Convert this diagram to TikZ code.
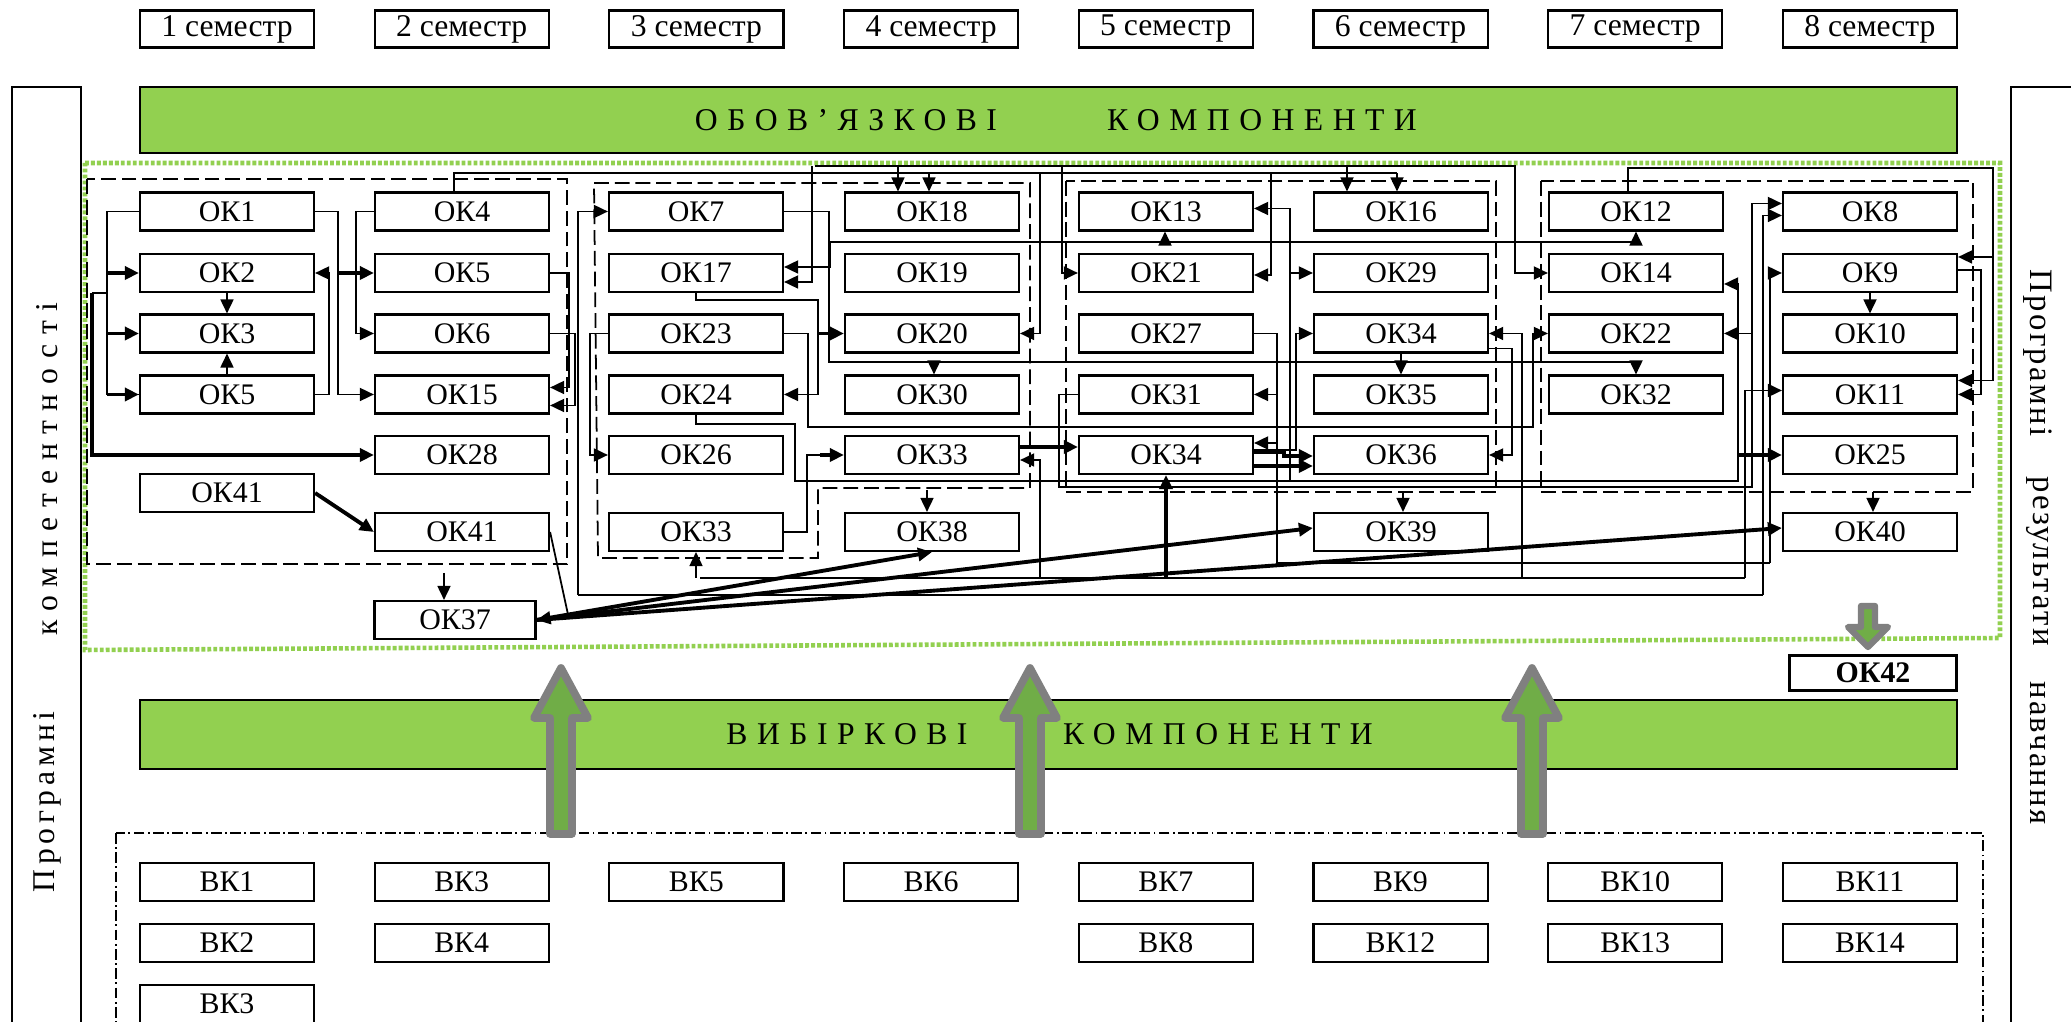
\documentclass[tikz,border=0pt]{standalone}
\usepackage{fontspec}
\setmainfont{Liberation Serif}
\newfontfamily\widefont[LetterSpace=30]{Liberation Serif}
\newfontfamily\widerfont[LetterSpace=15]{Liberation Serif}
\newfontfamily\narrowfont[LetterSpace=7]{Liberation Serif}
\usetikzlibrary{arrows.meta,calc}
\definecolor{BarClr}{RGB}{146,208,80}
\definecolor{UpClr}{RGB}{112,173,71}
\definecolor{ArrClr}{RGB}{128,128,128}

\tikzset{
  okbox/.style={draw,line width=0.6pt,minimum width=1.74cm,minimum height=0.38cm,inner sep=0pt,font=\fontsize{8.5}{10}\selectfont},
  ln/.style={line width=0.5pt},
  arr/.style={ln,-{Triangle[length=0.14cm,width=0.13cm]}},
  tarr/.style={arr,line width=1.1pt},
  grp/.style={line width=0.5pt,dash pattern=on 4.2pt off 1.7pt},
  bartext/.style={font={\widefont\fontsize{9}{10}\selectfont}},
  sidetext/.style={font={\widefont\fontsize{9}{10}\selectfont},rotate=90},
  sidetextr/.style={font={\narrowfont\fontsize{9.3}{10}\selectfont},rotate=-90},
  bigup/.style={fill=UpClr,draw=ArrClr,line width=2.2pt,line join=round},
}

\begin{document}
\begin{tikzpicture}[x=0.01cm,y=-0.01cm]
\useasboundingbox (0,0) rectangle (2071,1022);

% side frames
\draw[ln] (12,87) rectangle (81,1040);
\draw[ln] (2011,87) rectangle (2090,1040);
\node[sidetext,font={\widerfont\fontsize{9}{10}\selectfont}] (lt1) at (47,802) {Програмні};
\node[sidetext] (lt2) at (47,469) {компетентності};
\node[sidetextr] (rt1) at (2038,353) {Програмні};
\node[sidetextr] (rt2) at (2038,561) {результати};
\node[sidetextr] (rt3) at (2038,753) {навчання};

% semesters
\foreach \i in {1,...,8}
  \node[okbox,minimum height=0.37cm,font=\fontsize{9}{10}\selectfont] (s\i) at ({227+234.7*(\i-1)},29) {\i\ семестр};

% bars
\draw[fill=BarClr,line width=0.6pt] (140,87) rectangle (1957,153);
\node[bartext] (bt1) at (846,120) {ОБОВ’ЯЗКОВІ};
\node[bartext] (bt2) at (1262,120) {КОМПОНЕНТИ};
\draw[fill=BarClr,line width=0.6pt] (140,700) rectangle (1957,769);
\node[bartext] (bt3) at (847,734) {ВИБІРКОВІ};
\node[bartext] (bt4) at (1218,734) {КОМПОНЕНТИ};

% green frame and groups
\draw[BarClr,line width=1.3pt,dash pattern=on 1.1pt off 0.6pt] (85,163) -- (2000,163) -- (2000,638) -- (85,650) -- cycle;
\draw[grp] (87,179) rectangle (567,564);
\draw[grp] (594,183) -- (1030,183) -- (1030,488) -- (818,488) -- (818,558) -- (598,558) -- cycle;
\draw[grp] (1066,181) rectangle (1496,492);
\draw[grp] (1541,181) rectangle (1973,492);

% semester 1--2
\node[okbox] (k1) at (227,211.5) {ОК1};
\node[okbox] (k2) at (227,273) {ОК2};
\node[okbox] (k3) at (227,333.5) {ОК3};
\node[okbox] (k5a) at (227,394.5) {ОК5};
\node[okbox] (k41a) at (227,493) {ОК41};
\node[okbox] (k4) at (462,211.5) {ОК4};
\node[okbox] (k5) at (462,273) {ОК5};
\node[okbox] (k6) at (462,333.5) {ОК6};
\node[okbox] (k15) at (462,394.5) {ОК15};
\node[okbox] (k28) at (462,455) {ОК28};
\node[okbox] (k41) at (462,532) {ОК41};
\node[okbox,minimum width=1.61cm] (k37) at (455,620) {ОК37};
% semester 3--4
\node[okbox] (k7) at (696,211.5) {ОК7};
\node[okbox] (k17) at (696,273) {ОК17};
\node[okbox] (k23) at (696,333.5) {ОК23};
\node[okbox] (k24) at (696,394.5) {ОК24};
\node[okbox] (k26) at (696,455) {ОК26};
\node[okbox] (k33a) at (696,532) {ОК33};
\node[okbox] (k18) at (932,211.5) {ОК18};
\node[okbox] (k19) at (932,273) {ОК19};
\node[okbox] (k20) at (932,333.5) {ОК20};
\node[okbox] (k30) at (932,394.5) {ОК30};
\node[okbox] (k33) at (932,455) {ОК33};
\node[okbox] (k38) at (932,532) {ОК38};
% semester 5--6
\node[okbox] (k13) at (1166,211.5) {ОК13};
\node[okbox] (k21) at (1166,273) {ОК21};
\node[okbox] (k27) at (1166,333.5) {ОК27};
\node[okbox] (k31) at (1166,394.5) {ОК31};
\node[okbox] (k34a) at (1166,455) {ОК34};
\node[okbox] (k16) at (1401,211.5) {ОК16};
\node[okbox] (k29) at (1401,273) {ОК29};
\node[okbox] (k34) at (1401,333.5) {ОК34};
\node[okbox] (k35) at (1401,394.5) {ОК35};
\node[okbox] (k36) at (1401,455) {ОК36};
\node[okbox] (k39) at (1401,532) {ОК39};
% semester 7--8
\node[okbox] (k12) at (1636,211.5) {ОК12};
\node[okbox] (k14) at (1636,273) {ОК14};
\node[okbox] (k22) at (1636,333.5) {ОК22};
\node[okbox] (k32) at (1636,394.5) {ОК32};
\node[okbox] (k8) at (1870,211.5) {ОК8};
\node[okbox] (k9) at (1870,273) {ОК9};
\node[okbox] (k10) at (1870,333.5) {ОК10};
\node[okbox] (k11) at (1870,394.5) {ОК11};
\node[okbox] (k25) at (1870,455) {ОК25};
\node[okbox] (k40) at (1870,532) {ОК40};
\node[okbox,minimum width=1.67cm,minimum height=0.35cm,line width=1pt,font=\fontsize{8.5}{10}\selectfont\bfseries] (k42) at (1873,673) {ОК42};

% links, semester 1--2
\draw[ln] (k1.west) -- ++(-32,0) coordinate (b1) |- (k5a.west);
\foreach \t in {k2,k3,k5a}
  \draw[tarr] (b1 |- \t.west) -- (\t.west);
\coordinate (b2) at (92,293);
\draw[ln] (b1 |- b2) -- (b2);
\draw[tarr] (b2) |- (k28.west);
\draw[arr] (k2.south) -- (k3.north);
\draw[arr] (k5a.north) -- (k3.south);
\draw[arr] (k5a.east) -- ++(14,0) |- (k2.east);
\draw[arr] (k1.east) -- ++(23,0) coordinate (b3) |- (k15.west);
\draw[tarr] (b3 |- k5.west) -- (k5.west);
\draw[arr] (k4.west) -- ++(-18,0) |- (k6.west);
\draw[tarr] (k41a.east) -- (k41.west);
\draw[arr] (k5.east) -- ++(19,0) |- ($(k15.east)+(0,-7)$);
\draw[arr] (k6.east) -- ++(25,0) |- ($(k15.east)+(0,11)$);
\coordinate (p1) at (578,595);
\draw[arr] (p1) |- (k7.west);
\draw[arr] (k41.east) -- ++(18,83) -- (k37.east);
\draw[arr] ($(k37.north)+(-11,-27)$) -- ($(k37.north)+(-11,0)$);

% top buses
\draw[ln] ([xshift=-0.08cm]k4.north) |- (1397,173);
\draw[arr] (815,166) -- (1515,166) |- (k14.west);
\draw[arr] (898,166) -- (898,0 |- k18.north);
\draw[arr] (929,173) -- (929,0 |- k18.north);
\draw[arr] (1347,166) -- (1347,0 |- k16.north);
\draw[arr] (1397,173) -- (1397,0 |- k16.north);
\draw[arr] (812,166) |- ($(k17.east)+(0,9)$);
\draw[arr] (1040,173) |- (k20.east);
\draw[arr] (1062,166) |- (k21.west);
\draw[arr] (1271,173) |- ($(k21.east)+(0,2)$);

% row buses
\draw[ln] (830,242) -- (1636,242);
\draw[arr] (830,242) |- ($(k17.east)+(0,-6)$);
\draw[arr] (1165,242) -- (1165,0 |- k13.south);
\draw[arr] (1636,242) -- (1636,0 |- k12.south);
\draw[ln] (k7.east) -| (829,362) -- (1636,362);
\draw[arr] (934,362) -- (934,0 |- k30.north);
\draw[arr] (1636,362) -- (1636,0 |- k32.north);

% links, semester 3--4
\draw[arr] (k17.south) |- (818,300) |- (k24.east);
\draw[tarr] (818,0 |- k20.west) -- (k20.west);
\draw[arr] (k23.west) -- ++(-18,0) |- (k26.west);
\draw[arr] (k23.east) -- ++(24,0) |- (1533,427) |- (k22.west);
\draw[arr] (k24.south) |- (795,424) |- (1738,481) |- ($(k14.east)+(0,11)$);
\draw[tarr] (1738,0 |- k25.west) -- (k25.west);
\draw[ln] (k33a.east) -- ++(23,0) |- ($(k33.west)+(-24,0)$);
\draw[tarr] ($(k33.west)+(-24,0)$) -- (k33.west);
\draw[tarr] ($(k33.east)+(0,-8)$) -- ($(k34a.west)+(0,-8)$);
\draw[arr] (1040,578) |- ($(k33.east)+(0,5)$);
\draw[arr] ($(k38.north)+(-5,-22)$) -- ($(k38.north)+(-5,0)$);

% bottom buses
\draw[ln] (700,578) -- (1745,578);
\draw[arr] (k33a.south |- 0,578) -- (k33a.south);
\draw[arr] (1745,578) |- ($(k11.west)+(0,-4)$);
\draw[tarr] (k34a.south |- 0,578) -- (k34a.south);
\draw[ln] (p1) -- (1763,595);
\draw[arr] (1763,595) |- ($(k8.west)+(0,4)$);

% links, semester 5--6
\draw[ln] (k27.east) -| (1277,563) -- (1770,563);
\draw[arr] (1770,563) |- (k9.west);
\draw[arr] (1277,0 |- k31.east) -- (k31.east);
\draw[arr] (1277,443) -- ($(k34a.east)+(0,-12)$);
\draw[arr] (1290,481) |- ($(k13.east)+(0,-3)$);
\draw[arr] (1290,0 |- k29.west) -- (k29.west);
\draw[arr] ($(k34a.east)+(0,-5)$) -- ++(42,0) |- (k34.west);
\draw[tarr] ($(k34a.east)+(0,11)$) -- ($(k36.west)+(0,11)$);
\draw[tarr] ($(k34a.east)+(0,-3)$) -- ++(30,0) |- ($(k36.west)+(0,1)$);
\draw[arr] (k31.west) -- ++(-19,0) |- (1752,487) |- ($(k8.west)+(0,-8)$);
\draw[arr] (1752,0 |- k22.east) -- (k22.east);
\draw[arr] ($(k34.east)+(0,15)$) -- ++(23,0) |- (k36.east);
\draw[arr] (1522,578) |- (k34.east);
\draw[arr] (k34.south) -- (k35.north);
\draw[arr] ($(k39.north)+(2,-20)$) -- ($(k39.north)+(2,0)$);

% links, semester 7--8
\draw[arr] ($(k12.north)+(-8,0)$) |- (1993,168) |- ($(k11.east)+(0,-14)$);
\draw[arr] (1993,257) -- ($(k9.east)+(0,-16)$);
\draw[arr] ($(k9.east)+(0,-3)$) -- ++(23,0) |- (k11.east);
\draw[arr] (k9.south) -- (k10.north);
\draw[arr] ($(k40.north)+(3,-20)$) -- ($(k40.north)+(3,0)$);

% links from OK37
\draw[tarr] (k37.east) -- (k38.south);
\draw[tarr] (k37.east) -- ($(k39.west)+(0,-4)$);
\draw[tarr] (k37.east) -- ($(k40.west)+(0,-4)$);

% elective components
\draw[ln,densely dash dot] (116,833) rectangle (1983,1040);
\foreach \lbl [count=\i] in {ВК1,ВК3,ВК5,ВК6,ВК7,ВК9,ВК10,ВК11}
  \node[okbox] (va\i) at ({227+234.7*(\i-1)},882) {\lbl};
\foreach \c/\lbl in {1/ВК2,2/ВК4,5/ВК8,6/ВК12,7/ВК13,8/ВК14}
  \node[okbox] (vb\c) at ({227+234.7*(\c-1)},943) {\lbl};
\node[okbox] (vc1) at (227,1004) {ВК3};

% big arrows
\foreach \x in {561,1030,1532}
  \draw[bigup] (\x,668) -- (\x+27,718) -- (\x+11,718) -- (\x+11,834) -- (\x-11,834) -- (\x-11,718) -- (\x-27,718) -- cycle;
\draw[bigup,line width=1.8pt] (1868,647) -- (1888,627) -- (1875,627) -- (1875,606) -- (1861,606) -- (1861,627) -- (1848,627) -- cycle;
\end{tikzpicture}
\end{document}
